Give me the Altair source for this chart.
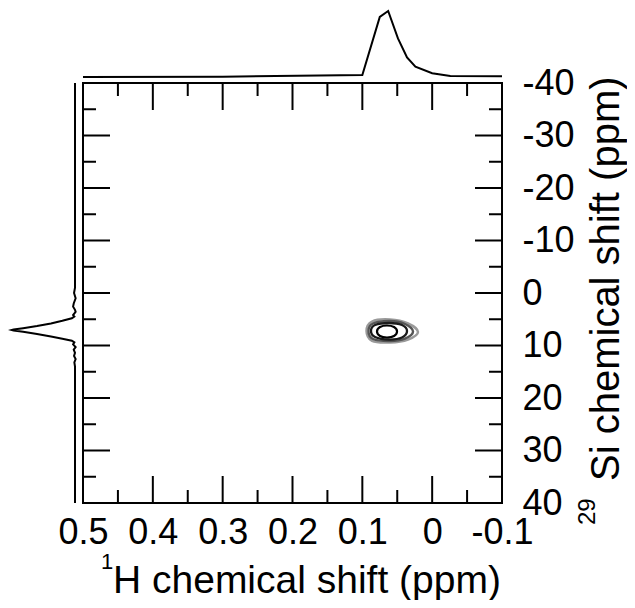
import altair as alt
import pandas as pd

# ---------------- data ----------------
x_major = [0.5, 0.4, 0.3, 0.2, 0.1, 0.0, -0.1]
x_minor = [0.45, 0.35, 0.25, 0.15, 0.05, -0.05]
y_major = [-40, -30, -20, -10, 0, 10, 20, 30, 40]
y_minor = [-35, -25, -15, -5, 5, 15, 25, 35]

# 1H projection (top trace)
h_ppm = [0.5, 0.3, 0.1, 0.075, 0.063, 0.049, 0.036, 0.024, 0.0, -0.026, -0.1]
h_int = [-0.01, -0.005, 0.02, 0.91, 1.0, 0.58, 0.29, 0.147, 0.046, 0.005, 0.0]

# 29Si projection (left trace)
si_ppm = [-40, -1, 0, 1, 2, 2.6, 3.2, 3.6, 4.2, 4.5, 4.82, 5.3, 5.8, 6.3, 6.7,
          6.95, 7.05, 7.15, 7.4, 7.8, 8.3, 8.7, 9.09, 9.4, 9.8, 10.3, 10.8,
          11.4, 12.0, 12.6, 13.2, 14.0, 40]
si_int = [0, 0, 0.015, -0.01, 0.02, 0.03, 0.0, -0.01, 0.03, 0.01, 0.05, 0.2,
          0.38, 0.6, 0.82, 0.97, 1.0, 0.97, 0.82, 0.6, 0.38, 0.2, 0.05, 0.01,
          0.03, -0.01, 0.02, 0.0, 0.015, -0.01, 0.01, 0.0, 0.0]

# contour outlines (1H ppm, 29Si ppm)
c_outer_x = [0.0203, 0.0346, 0.0604, 0.0861, 0.0940, 0.0861, 0.0604, 0.0346]
c_outer_y = [7.43, 8.86, 9.43, 9.14, 7.24, 5.43, 5.05, 5.81]
c_ring_x = [0.0274, 0.0389, 0.0604, 0.0847, 0.0912, 0.0847, 0.0604, 0.0389]
c_ring_y = [7.33, 8.67, 9.14, 8.76, 7.24, 5.81, 5.33, 5.90]
c_mid_x = [0.0360, 0.0432, 0.0618, 0.0818, 0.0876, 0.0818, 0.0618, 0.0432]
c_mid_y = [7.24, 8.48, 8.86, 8.38, 7.24, 6.10, 5.71, 6.10]
c_in_x = [0.0503, 0.0546, 0.0647, 0.0747, 0.0790, 0.0747, 0.0647, 0.0546]
c_in_y = [7.33, 8.19, 8.48, 8.19, 7.33, 6.48, 6.19, 6.48]
levels = ["outer", "ring", "mid", "inner"]
level_colors = ["#9a9a9a", "#555555", "#1a1a1a", "#000000"]
level_widths = [2.5, 2.2, 2.2, 2.2]

x_title = "H chemical shift (ppm)"
x_title_sup = "1"
y_title = "Si chemical shift (ppm)"
y_title_sup = "29"

FONT = "Liberation Sans"
W, H = 419, 420

# ---------------- build tables ----------------
rows = []
for name, xs_, ys_ in zip(levels,
                          [c_outer_x, c_ring_x, c_mid_x, c_in_x],
                          [c_outer_y, c_ring_y, c_mid_y, c_in_y]):
    for i, (a, b) in enumerate(zip(xs_, ys_)):
        rows.append({"level": name, "idx": i, "h": a, "si": b})
contours = pd.DataFrame(rows)
top_df = pd.DataFrame({"h": h_ppm, "i": h_int})
left_df = pd.DataFrame({"si": si_ppm, "i": si_int})


def xs():
    return alt.Scale(domain=[-0.1, 0.5], reverse=True, nice=False, zero=False)


def ys():
    return alt.Scale(domain=[-40, 40], reverse=True, nice=False, zero=False)


contour_layer = alt.Chart(contours).mark_line(interpolate="cardinal-closed").encode(
    x=alt.X("h:Q", scale=xs(), axis=alt.Axis(
        values=x_major, orient="bottom", title=None, ticks=False, tickSize=0,
        domain=False, grid=False, labelFontSize=36, labelFont=FONT,
        labelColor="black", labelPadding=12, labelFlush=False,
        labelOverlap=False, format="~g")),
    y=alt.Y("si:Q", scale=ys(), axis=alt.Axis(
        values=y_major, orient="right", title=None, ticks=False, tickSize=0,
        domain=False, grid=False, labelFontSize=36, labelFont=FONT,
        labelColor="black", labelPadding=20, labelAlign="left",
        labelBaseline="middle", labelOverlap=False, labelFlush=False,
        format="d")),
    color=alt.Color("level:N", scale=alt.Scale(domain=levels, range=level_colors), legend=None),
    strokeWidth=alt.StrokeWidth("level:N", scale=alt.Scale(domain=levels, range=level_widths), legend=None),
    detail="level:N",
    order="idx:Q",
)


def xticks(vals, y0, y1):
    return alt.Chart(pd.DataFrame({"v": vals})).mark_rule(color="black", strokeWidth=2).encode(
        x=alt.X("v:Q", scale=xs(), axis=None), y=alt.value(y0), y2=alt.value(y1))


def yticks(vals, x0, x1):
    return alt.Chart(pd.DataFrame({"v": vals})).mark_rule(color="black", strokeWidth=2).encode(
        y=alt.Y("v:Q", scale=ys(), axis=None), x=alt.value(x0), x2=alt.value(x1))


MAJ, MIN = 27, 13
ticks = [
    xticks(x_major, H, H - MAJ), xticks(x_minor, H, H - MIN),
    xticks(x_major, 0, MAJ), xticks(x_minor, 0, MIN),
    yticks(y_major, 0, MAJ), yticks(y_minor, 0, MIN),
    yticks(y_major, W, W - MAJ), yticks(y_minor, W, W - MIN),
]


def text_layer(t, x, y, size, angle=0, align="left"):
    return alt.Chart(pd.DataFrame({"t": [t]})).mark_text(
        font=FONT, fontSize=size, color="black", align=align,
        baseline="alphabetic", angle=angle).encode(
        text="t:N", x=alt.value(x), y=alt.value(y))


titles = [
    text_layer(x_title, 30, 510, 39),
    text_layer(x_title_sup, 18, 486, 22),
    text_layer(y_title, 536, 398, 40, angle=270),
    text_layer(y_title_sup, 512, 442, 24, angle=270),
]

top_proj = alt.Chart(top_df).mark_line(color="black", strokeWidth=2).encode(
    x=alt.X("h:Q", scale=xs(), axis=None),
    y=alt.Y("i:Q", scale=alt.Scale(domain=[0, 1], range=[-6.7, -72], nice=False, zero=False), axis=None),
    order="h:Q",
)

left_proj = alt.Chart(left_df).mark_line(color="black", strokeWidth=2).encode(
    y=alt.Y("si:Q", scale=ys(), axis=None),
    x=alt.X("i:Q", scale=alt.Scale(domain=[0, 1], range=[-8, -71.3], nice=False, zero=False), axis=None),
    order="si:Q",
)

chart = alt.layer(contour_layer, *ticks, top_proj, left_proj, *titles).resolve_scale(
    x="independent", y="independent"
).properties(
    width=W, height=H,
    padding={"left": 75, "top": 75, "right": 125, "bottom": 97},
    autosize=alt.AutoSizeParams(type="none"),
    background="white",
).configure(
    locale={"number": {"decimal": ".", "thousands": ",", "grouping": [3],
                       "currency": ["$", ""], "minus": "-"}},
    view=alt.ViewConfig(stroke="black", strokeWidth=2),
)

chart.save("out.html", embed_options={"renderer": "svg", "actions": False})
